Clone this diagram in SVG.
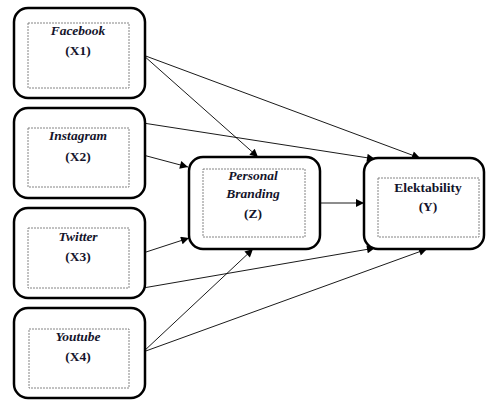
<svg xmlns="http://www.w3.org/2000/svg" width="486" height="403" viewBox="0 0 486 403">
<style>
.box{fill:#fff;stroke:#000;stroke-width:2.5}
.inner{fill:none;stroke:#777;stroke-width:0.9;stroke-dasharray:2 1}
.t{font-family:"Liberation Serif","Times New Roman",serif;font-size:13.5px;font-weight:bold;text-anchor:middle;fill:#14142b}
.i{font-style:italic}
.c{stroke:#000;stroke-width:0.9;fill:none;marker-end:url(#ah)}
</style>
<defs>
<marker id="ah" viewBox="0 0 10 10" refX="10" refY="5" markerWidth="10" markerHeight="8" markerUnits="userSpaceOnUse" orient="auto">
<path d="M0,0 L10,5 L0,10 z" fill="#000"/>
</marker>
</defs>
<g id="connectors">
<line class="c" x1="143" y1="55" x2="258" y2="157"/>
<line class="c" x1="143" y1="55" x2="420" y2="158"/>
<line class="c" x1="143" y1="123" x2="375" y2="159"/>
<line class="c" x1="143" y1="155" x2="188" y2="167"/>
<line class="c" x1="143" y1="253" x2="189" y2="238"/>
<line class="c" x1="143" y1="288" x2="375" y2="248"/>
<line class="c" x1="143" y1="352" x2="253" y2="249"/>
<line class="c" x1="143" y1="352" x2="427" y2="249"/>
<line class="c" x1="320" y1="203" x2="364" y2="203"/>
</g>
<g id="X1">
<rect class="box" x="14" y="8" width="131" height="90" rx="14"/>
<rect class="inner" x="28" y="23" width="101" height="65"/>
<text class="t i" x="78" y="35">Facebook</text>
<text class="t" x="78" y="55">(X1)</text>
</g>
<g id="X2">
<rect class="box" x="14" y="108" width="131" height="90" rx="14"/>
<rect class="inner" x="28" y="128" width="101" height="59"/>
<text class="t i" x="78" y="140">Instagram</text>
<text class="t" x="78" y="161">(X2)</text>
</g>
<g id="X3">
<rect class="box" x="14" y="208" width="131" height="90" rx="14"/>
<rect class="inner" x="28" y="228" width="101" height="60"/>
<text class="t i" x="78" y="241">Twitter</text>
<text class="t" x="78" y="261">(X3)</text>
</g>
<g id="X4">
<rect class="box" x="14" y="308" width="131" height="90" rx="14"/>
<rect class="inner" x="29" y="329" width="100" height="59"/>
<text class="t i" x="78" y="341">Youtube</text>
<text class="t" x="78" y="361">(X4)</text>
</g>
<g id="Z">
<rect class="box" x="189" y="157" width="131" height="92" rx="14"/>
<rect class="inner" x="203" y="169" width="102" height="68"/>
<text class="t i" x="253" y="180">Personal</text>
<text class="t i" x="253" y="198">Branding</text>
<text class="t" x="253" y="218">(Z)</text>
</g>
<g id="Y">
<rect class="box" x="364" y="158" width="120" height="91" rx="14"/>
<rect class="inner" x="378" y="178" width="101" height="59"/>
<text class="t" x="428" y="192">Elektability</text>
<text class="t" x="428" y="211">(Y)</text>
</g>
</svg>
